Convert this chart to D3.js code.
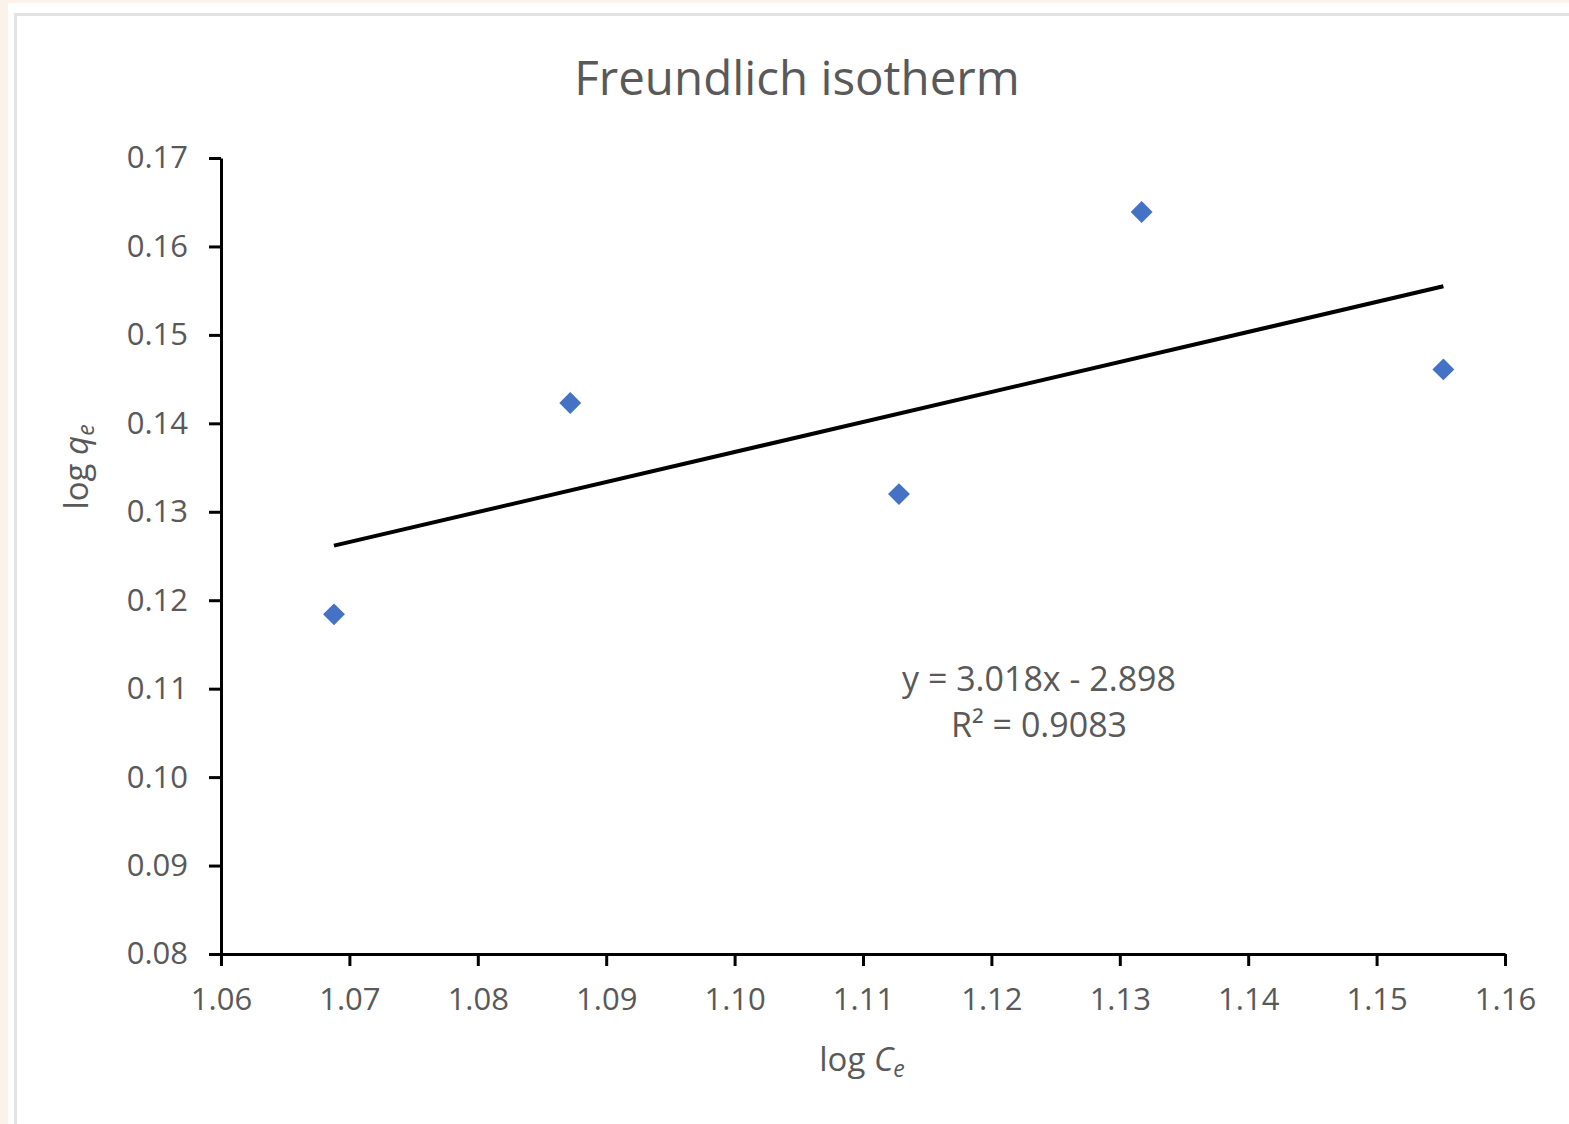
<!DOCTYPE html>
<html>
<head>
<meta charset="utf-8">
<script src="https://cdn.jsdelivr.net/npm/d3@7"></script>
<style>
  html, body { margin: 0; padding: 0; background: #fbf3ea; }
  svg { display: block; }
  text { font-family: "Open Sans", "Noto Sans", sans-serif; fill: #595959; }
</style>
</head>
<body>
<script>
// ---- data ----
const logCe = [1.0688, 1.0872, 1.1128, 1.1317, 1.1552];
const logQe = [0.1184, 0.1423, 0.1320, 0.1639, 0.1461];
const xTicks = [1.06, 1.07, 1.08, 1.09, 1.10, 1.11, 1.12, 1.13, 1.14, 1.15, 1.16];
const yTicks = [0.08, 0.09, 0.10, 0.11, 0.12, 0.13, 0.14, 0.15, 0.16, 0.17];
const chartTitle = "Freundlich isotherm";
const equationLines = ["y = 3.018x - 2.898", "R² = 0.9083"];

const W = 1569, H = 1124;
const svg = d3.select("body").append("svg").attr("width", W).attr("height", H);

// page background + chart area
svg.append("rect").attr("x", 0).attr("y", 0).attr("width", W).attr("height", H).attr("fill", "#fbf3ea");
svg.append("rect").attr("x", 8).attr("y", 3).attr("width", W).attr("height", H).attr("fill", "#ffffff");
svg.append("rect").attr("x", 15.5).attr("y", 14.5).attr("width", W + 10).attr("height", H + 10)
  .attr("fill", "#ffffff").attr("stroke", "#e3e3e3").attr("stroke-width", 3);

const x = d3.scaleLinear().domain([1.06, 1.16]).range([221, 1505]);
const y = d3.scaleLinear().domain([0.08, 0.17]).range([954, 158]);

// axes
const gx = svg.append("g").attr("transform", `translate(0,${y(0.08)})`)
  .call(d3.axisBottom(x).tickValues(xTicks).tickFormat(d3.format(".2f")).tickSize(12).tickSizeOuter(0).tickPadding(22));
const gy = svg.append("g").attr("transform", `translate(${x(1.06)},0)`)
  .call(d3.axisLeft(y).tickValues(yTicks).tickFormat(d3.format(".2f")).tickSize(12).tickSizeOuter(0).tickPadding(21));
[gx, gy].forEach(g => {
  g.selectAll(".domain").attr("stroke", "#000").attr("stroke-width", 3);
  g.selectAll(".tick line").attr("stroke", "#000").attr("stroke-width", 3);
  g.selectAll(".tick text").attr("font-size", 31).attr("fill", "#595959")
    .style("font-family", '"Open Sans", "Noto Sans", sans-serif');
});

// trendline (least squares on the points)
const n = logCe.length;
const mx = d3.mean(logCe), my = d3.mean(logQe);
let sxy = 0, sxx = 0;
for (let i = 0; i < n; i++) { sxy += (logCe[i] - mx) * (logQe[i] - my); sxx += (logCe[i] - mx) ** 2; }
const slope = sxy / sxx, intercept = my - slope * mx;
const [x0, x1] = d3.extent(logCe);
svg.append("line")
  .attr("x1", x(x0)).attr("y1", y(slope * x0 + intercept))
  .attr("x2", x(x1)).attr("y2", y(slope * x1 + intercept))
  .attr("stroke", "#000").attr("stroke-width", 4);

// points
const diamond = d3.symbol().type(d3.symbolSquare).size(240);
svg.append("g").selectAll("path").data(logCe.map((v, i) => [v, logQe[i]])).join("path")
  .attr("d", diamond)
  .attr("transform", d => `translate(${x(d[0])},${y(d[1])}) rotate(45)`)
  .attr("fill", "#4472C4");

// title
svg.append("text").attr("x", 797).attr("y", 95).attr("text-anchor", "middle")
  .attr("font-size", 47.5).text(chartTitle);

// equation
svg.append("text").attr("x", 1039).attr("y", 691).attr("text-anchor", "middle")
  .attr("font-size", 34).text(equationLines[0]);
svg.append("text").attr("x", 1039).attr("y", 737).attr("text-anchor", "middle")
  .attr("font-size", 34).text(equationLines[1]);

// x axis title
const xt = svg.append("text").attr("x", 862).attr("y", 1071).attr("text-anchor", "middle").attr("font-size", 33);
xt.append("tspan").text("log ");
xt.append("tspan").attr("font-style", "italic").text("C");
xt.append("tspan").attr("font-style", "italic").attr("font-size", 23).attr("dy", 6).text("e");

// y axis title
const yt = svg.append("text").attr("transform", "translate(88,467) rotate(-90)")
  .attr("text-anchor", "middle").attr("font-size", 33);
yt.append("tspan").text("log ");
yt.append("tspan").attr("font-style", "italic").text("q");
yt.append("tspan").attr("font-style", "italic").attr("font-size", 23).attr("dy", 6).text("e");
</script>
</body>
</html>
